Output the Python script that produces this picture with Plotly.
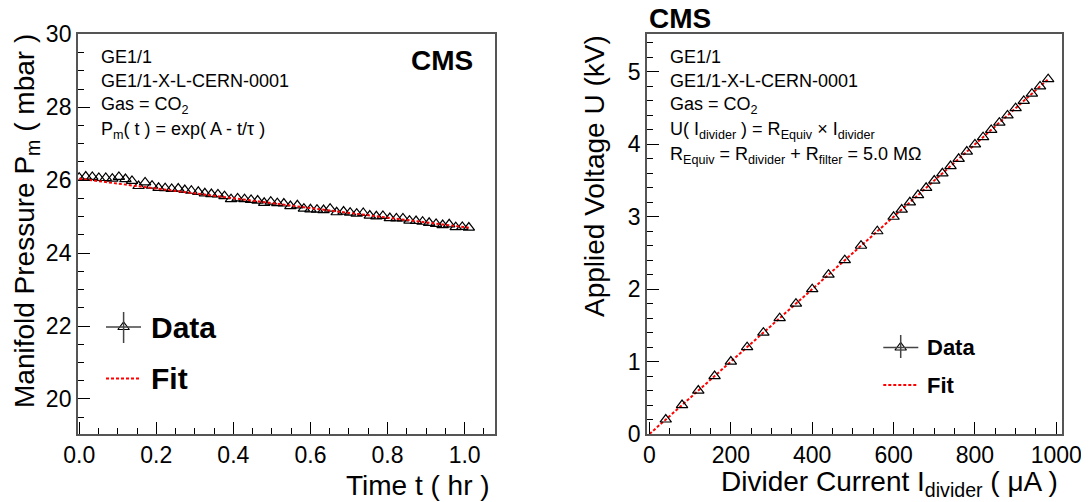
import math
import plotly.graph_objects as go

# The page body adds an 8 px margin; the figure is sized so that target-pixel
# coordinates (X, Y) of the 1089x502 window map onto the figure correctly.
WIN_W, WIN_H = 1089, 502
OFF = 8
W, H = WIN_W - OFF, WIN_H - OFF

# ---------------- data: left panel (manifold pressure vs time) ----------------
time_hr = [0.000, 0.017, 0.034, 0.051, 0.069, 0.086, 0.103, 0.120, 0.137, 0.154,
           0.171, 0.189, 0.206, 0.223, 0.240, 0.257, 0.274, 0.291, 0.309, 0.326,
           0.343, 0.360, 0.377, 0.394, 0.411, 0.429, 0.446, 0.463, 0.480, 0.497,
           0.514, 0.531, 0.548, 0.566, 0.583, 0.600, 0.617, 0.634, 0.651, 0.668,
           0.686, 0.703, 0.720, 0.737, 0.754, 0.771, 0.788, 0.806, 0.823, 0.840,
           0.857, 0.874, 0.891, 0.908, 0.926, 0.943, 0.960, 0.977, 0.994, 1.011]
pressure_mbar = [26.07, 26.10, 26.09, 26.06, 26.06, 26.04, 26.09, 26.03, 25.98, 25.84,
                 25.94, 25.85, 25.79, 25.78, 25.76, 25.77, 25.73, 25.71, 25.68, 25.64,
                 25.62, 25.61, 25.56, 25.48, 25.50, 25.48, 25.46, 25.44, 25.38, 25.41,
                 25.37, 25.36, 25.29, 25.31, 25.22, 25.20, 25.19, 25.18, 25.22, 25.12,
                 25.14, 25.11, 25.08, 25.10, 25.03, 25.01, 25.02, 24.96, 24.95, 24.95,
                 24.89, 24.88, 24.86, 24.83, 24.80, 24.77, 24.79, 24.71, 24.72, 24.70]
fit_A = math.log(26.04)   # P_m(t) = exp(A - t/tau)
fit_tau = 19.1            # hr

# ---------------- data: right panel (voltage vs divider current) ----------------
current_uA = [40, 80, 120, 160, 200, 240, 280, 320, 360, 400, 440, 480, 520, 560, 600,
              620, 640, 660, 680, 700, 720, 740, 760, 780, 800, 820, 840, 860, 880,
              900, 920, 940, 960, 980]
voltage_kV = [0.2, 0.4, 0.6, 0.8, 1.0, 1.2, 1.4, 1.6, 1.8, 2.0, 2.2, 2.4, 2.6, 2.8, 3.0,
              3.1, 3.2, 3.3, 3.4, 3.5, 3.6, 3.7, 3.8, 3.9, 4.0, 4.1, 4.2, 4.3, 4.4,
              4.5, 4.6, 4.7, 4.8, 4.9]
R_equiv_MOhm = 5.0

FONT = "Liberation Sans, Arial, Helvetica, sans-serif"
MARKER = dict(symbol="triangle-up-open", size=10, color="black",
              line=dict(width=1.2, color="black"))


def px(x):
    return (x - OFF) / W


def py(y):
    return 1 - (y - OFF) / H


fig = go.Figure()

# fit curve left
n_fit = 120
t0, t1 = time_hr[0], time_hr[-1]
t_fit = [t0 + (t1 - t0) * k / n_fit for k in range(n_fit + 1)]
p_fit = [math.exp(fit_A - t / fit_tau) for t in t_fit]

fig.add_trace(go.Scatter(x=time_hr, y=pressure_mbar, mode="markers", marker=MARKER,
                         xaxis="x", yaxis="y", showlegend=False, hoverinfo="skip"))
fig.add_trace(go.Scatter(x=t_fit, y=p_fit, mode="lines",
                         line=dict(color="#ff0000", width=2, dash="3px,2px"),
                         xaxis="x", yaxis="y", showlegend=False, hoverinfo="skip"))

# right panel
i_fit = [0, current_uA[-1]]
u_fit = [R_equiv_MOhm * i / 1000.0 for i in i_fit]
fig.add_trace(go.Scatter(x=i_fit, y=u_fit, mode="lines",
                         line=dict(color="#ff0000", width=2, dash="3px,2px"),
                         xaxis="x2", yaxis="y2", showlegend=False, hoverinfo="skip"))
fig.add_trace(go.Scatter(x=current_uA, y=voltage_kV, mode="markers", marker=MARKER,
                         xaxis="x2", yaxis="y2", showlegend=False, hoverinfo="skip"))

ydom = [py(434), py(34.3)]
axis_common = dict(showgrid=False, zeroline=False, ticks="inside", ticklen=12,
                   tickwidth=1, tickcolor="black", showline=True, mirror=True,
                   linecolor="#555555", linewidth=1.5, automargin=False,
                   tickfont=dict(family=FONT, size=23, color="black"))

fig.update_layout(
    width=W, height=H, margin=dict(l=0, r=0, t=0, b=0, pad=0),
    paper_bgcolor="white", plot_bgcolor="rgba(0,0,0,0)",
    xaxis=dict(domain=[px(77.8), px(494.9)], range=[-0.0036, 1.0786], anchor="y",
               dtick=0.2, tick0=0, tickformat=".1f",
               minor=dict(dtick=0.05, ticklen=6, ticks="inside", tickcolor="black"),
               **axis_common),
    yaxis=dict(domain=ydom, range=[19.04, 30], anchor="x", dtick=2, tick0=0,
               minor=dict(dtick=0.5, ticklen=6, ticks="inside", tickcolor="black"),
               **axis_common),
    xaxis2=dict(domain=[px(646.8), px(1062)], range=[-6.6, 1014], anchor="y2",
                dtick=200, tick0=0,
                minor=dict(dtick=50, ticklen=6, ticks="inside", tickcolor="black"),
                **axis_common),
    yaxis2=dict(domain=ydom, range=[0, 5.52], anchor="x2", dtick=1, tick0=0,
                minor=dict(dtick=0.2, ticklen=6, ticks="inside", tickcolor="black"),
                **axis_common),
    # invisible full-canvas axes (window pixel units) used only to place legend glyphs
    xaxis3=dict(domain=[0, 1], range=[OFF, WIN_W], visible=False, anchor="y3",
                automargin=False),
    yaxis3=dict(domain=[0, 1], range=[WIN_H, OFF], visible=False, anchor="x3",
                automargin=False),
)

ann = []


def text(x, y, s, size=18, xanchor="left", yanchor="middle", bold=False, angle=0):
    ann.append(dict(x=px(x), y=py(y), xref="paper", yref="paper",
                    text=(f"<b>{s}</b>" if bold else s),
                    showarrow=False, xanchor=xanchor, yanchor=yanchor, textangle=angle,
                    font=dict(family=FONT, size=size, color="black")))


# left panel texts
lx = 98.8
text(lx, 57, "GE1/1")
text(lx, 81, "GE1/1-X-L-CERN-0001")
text(lx, 106, "Gas = CO<sub>2</sub>")
text(lx, 130, "P<sub>m</sub>( t ) = exp( A - t/τ )")
text(475, 60, "CMS", size=28, xanchor="right", bold=True)

# right panel texts
rx = 667.8
text(rx, 57, "GE1/1")
text(rx, 81, "GE1/1-X-L-CERN-0001")
text(rx, 106, "Gas = CO<sub>2</sub>")
text(rx, 131, "U( I<sub>divider</sub> ) = R<sub>Equiv</sub> × I<sub>divider</sub>")
text(rx, 156, "R<sub>Equiv</sub> = R<sub>divider</sub> + R<sub>filter</sub> = 5.0 MΩ")
text(646.8, 18.5, "CMS", size=28, xanchor="left", bold=True)

# axis titles
text(26, 32, "Manifold Pressure P<sub>m</sub> ( mbar )", size=28, xanchor="center",
     yanchor="top", angle=-90)
text(491.8, 485, "Time t ( hr )", size=28, xanchor="right")
text(594, 33, "Applied Voltage U (kV)", size=28, xanchor="center", yanchor="top", angle=-90)
text(1060, 483, "Divider Current I<sub>divider</sub> ( μA )", size=28, xanchor="right")

# legends (drawn by hand, ROOT style)
shapes = []


def seg(x0, y0, x1, y1, color, width, dash="solid"):
    shapes.append(dict(type="line", xref="paper", yref="paper", x0=px(x0), y0=py(y0),
                       x1=px(x1), y1=py(y1), line=dict(color=color, width=width, dash=dash)))


legend_glyph_x = [123.6, 900.7]
legend_glyph_y = [327, 347.5]

# left legend
seg(106, 327, 141, 327, "#444444", 1.5)
seg(123.6, 312, 123.6, 343, "#444444", 1.5)
seg(106, 378.5, 141, 378.5, "#ff0000", 2, "3px,2px")
text(149, 327, "Data", size=30, bold=True)
text(149, 378, "Fit", size=30, bold=True)

# right legend
seg(883.3, 347.5, 918.3, 347.5, "#444444", 1.5)
seg(900.7, 335, 900.7, 358, "#444444", 1.5)
seg(883.3, 385, 918.3, 385, "#ff0000", 2, "3px,2px")
text(925, 347, "Data", size=22, bold=True)
text(925, 385, "Fit", size=22, bold=True)

fig.update_layout(annotations=ann, shapes=shapes)

fig.add_trace(go.Scatter(x=legend_glyph_x, y=legend_glyph_y, mode="markers", marker=MARKER,
                         xaxis="x3", yaxis="y3", showlegend=False, hoverinfo="skip"))

fig.write_html("out.html")
